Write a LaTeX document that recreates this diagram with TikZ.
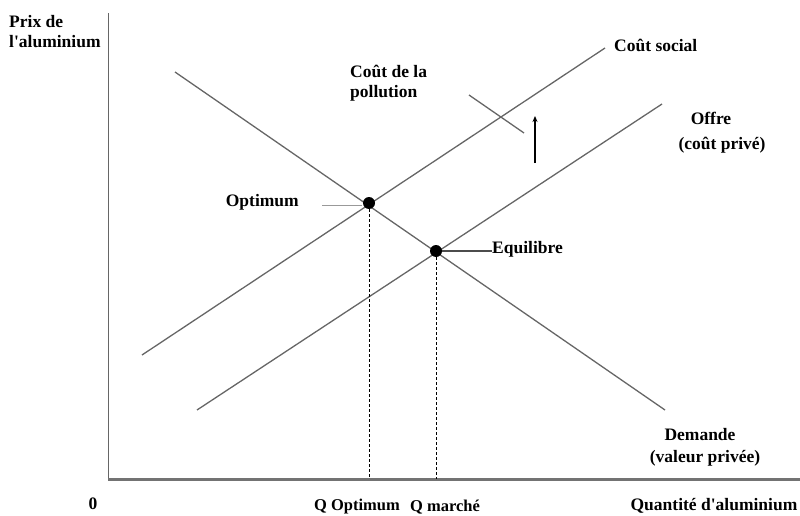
\documentclass[tikz,border=0pt]{standalone}
\usepackage{fontspec}
\setmainfont{Liberation Serif}[Ligatures=TeXOff]
\usetikzlibrary{arrows.meta}
\begin{document}
\begin{tikzpicture}[x=1pt,y=-1pt,
  curve/.style={draw=black!60,line width=1.3pt},
  axisv/.style={draw=black!60,line width=1pt},
  axish/.style={draw=black!55,line width=3pt},
  guide/.style={draw=black,line width=0.7pt,dash pattern=on 3pt off 2pt},
  dot/.style={circle,fill=black,inner sep=0pt,minimum size=12pt},
  lbl/.style={font=\fontsize{17.5}{20}\selectfont\bfseries,inner sep=0pt,align=center},
  lbll/.style={lbl,align=left}]
\useasboundingbox (0,0) rectangle (800,516);
% axes
\coordinate (o) at (108,479);
\coordinate (ytop) at (108,13);
\coordinate (xend) at (800,479);
\draw[axisv] (o) -- (ytop);
\draw[axish] (o) -- (xend);
% curves
\coordinate (d1) at (175,72);
\coordinate (d2) at (665,410);
\coordinate (s1) at (142,355);
\coordinate (s2) at (605,48);
\coordinate (p1) at (197,410);
\coordinate (p2) at (662,104);
\draw[curve] (d1) -- (d2);
\draw[curve] (s1) -- (s2);
\draw[curve] (p1) -- (p2);
% points
\node[dot] (opt) at (369,203) {};
\node[dot] (eq) at (436,251) {};
\coordinate (qopt) at (369,479);
\coordinate (qmar) at (436,479);
\draw[guide] (opt) -- (qopt);
\draw[guide] (eq) -- (qmar);
% pollution marker
\coordinate (c1) at (469,95);
\coordinate (c2) at (524,133);
\draw[curve] (c1) -- (c2);
\coordinate (a1) at (535,163);
\coordinate (a2) at (535,116);
\draw[line width=1.3pt,-{Stealth[length=6pt,width=5pt]}] (a1) -- (a2);
% labels
\node[lbll,anchor=north west] (ylab) at (9,15) {Prix de\\l'aluminium};
\node[lbll,anchor=north west] (poll) at (350,65) {Coût de la\\pollution};
\node[lbl,anchor=west] (cs) at (614,45) {Coût social};
\node[lbl] (offre) at (711,118) {Offre};
\node[lbl] (cp) at (722,145) {(coût privé)};
\node[lbl] (dem) at (700,435) {Demande};
\node[lbl] (vp) at (705,458) {(valeur privée)};
\node[lbl,anchor=east] (optl) at (299,202) {Optimum};
\node[lbl,anchor=west] (eql) at (492,249) {Equilibre};
\coordinate (ol1) at (322,205);
\coordinate (ol2) at (362,205);
\draw[draw=black!40,line width=1pt] (ol1) -- (ol2);
\draw[draw=black!70,line width=1.2pt] (eq.east) -- (eq.east -| eql.west);
\node[lbl] (zero) at (93,504) {0};
\node[lbl,font=\fontsize{16.5}{20}\selectfont\bfseries] (qo) at (357,507) {Q Optimum};
\node[lbl,font=\fontsize{16.5}{20}\selectfont\bfseries] (qm) at (445,507) {Q marché};
\node[lbl] (qa) at (714,506) {Quantité d'aluminium};
\end{tikzpicture}
\end{document}
